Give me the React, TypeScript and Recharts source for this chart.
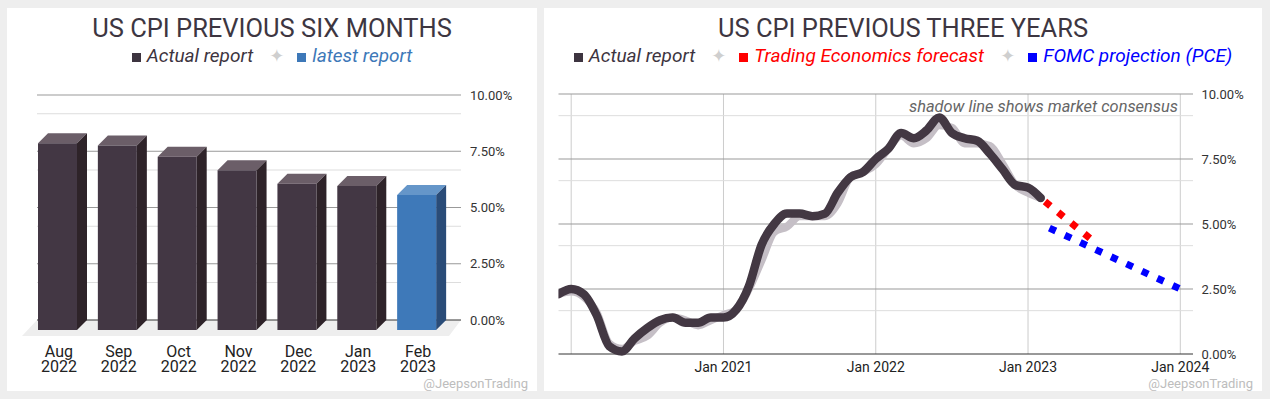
import React from 'react';
import { BarChart, Bar, XAxis, YAxis, CartesianGrid, LineChart, Line } from 'recharts';

// six month panel
const sixMonthLabels = ['Aug 2022', 'Sep 2022', 'Oct 2022', 'Nov 2022', 'Dec 2022', 'Jan 2023', 'Feb 2023'];
const sixMonthCpi = [8.3, 8.2, 7.7, 7.1, 6.5, 6.4, 6.0];

// three year panel (months counted from Jan 2020)
const actualStart = '2019-12';
const cpiActual = [
  2.3, 2.5, 2.3, 1.5, 0.3, 0.1, 0.6, 1.0, 1.3, 1.4, 1.2, 1.2, 1.4,
  1.4, 1.7, 2.6, 4.2, 5.0, 5.4, 5.4, 5.3, 5.4, 6.2, 6.8, 7.0,
  7.5, 7.9, 8.5, 8.3, 8.6, 9.1, 8.5, 8.3, 8.2, 7.7, 7.1, 6.5,
  6.4, 6.0,
];
const cpiConsensus = [
  2.3, 2.4, 2.2, 1.6, 0.4, 0.2, 0.5, 0.7, 1.2, 1.4, 1.3, 1.1, 1.3,
  1.5, 1.7, 2.5, 3.6, 4.7, 4.9, 5.3, 5.3, 5.3, 5.8, 6.8, 7.0,
  7.3, 7.9, 8.4, 8.1, 8.3, 8.8, 8.7, 8.1, 8.1, 8.0, 7.3, 6.5,
  6.2, 6.0,
];
const teForecastStart = '2023-02';
const teForecast = [6.0, 5.6, 5.2, 4.8, 4.4];
const fomcMonths = ['2023-02', '2024-01'];
const fomcProjection = [5.0, 2.5];

const yearTicks = ['2020-01', '2021-01', '2022-01', '2023-01', '2024-01'];
const timeDomain = ['2019-12', '2024-02'];
const pctTicks = [0, 2.5, 5, 7.5, 10];

const monthIndex = (s: string) => {
  const [y, m] = s.split('-').map(Number);
  return (y - 2020) * 12 + (m - 1);
};

const sixData = sixMonthLabels.map((label, i) => ({ label, v: sixMonthCpi[i] }));
const actualData = cpiActual.map((v, i) => ({ m: monthIndex(actualStart) + i, v }));
const consensusData = cpiConsensus.map((v, i) => ({ m: monthIndex(actualStart) + i, v }));
const teData = teForecast.map((v, i) => ({ m: monthIndex(teForecastStart) + i, v }));
const fomcData = fomcProjection.map((v, i) => ({ m: monthIndex(fomcMonths[i]), v }));
const yearTickValues = yearTicks.map(monthIndex);

// minor grid every third of a major step
const minorLines = pctTicks.slice(1).flatMap((t) => [t - 2.5 * (2 / 3), t - 2.5 / 3]);
const majorLines = pctTicks.slice(1);
const fmtPct = (v: number) => `${v.toFixed(2)}%`;

const DARK = '#433843';
const faces = {
  dark: { front: '#433744', side: '#2e2329', top: '#6b5e68' },
  blue: { front: '#3e79b9', side: '#2a4c78', top: '#6596c9' },
};
const DX = 10;
const DY = 10;

const Bar3D = (props: any) => {
  const { x, y, width, height, index } = props;
  const c = index === sixMonthCpi.length - 1 ? faces.blue : faces.dark;
  const fx = x - DX;
  const fy = y + DY;
  return (
    <g>
      <polygon points={`${fx},${fy} ${x},${y} ${x + width},${y} ${fx + width},${fy}`} fill={c.top} />
      <polygon
        points={`${fx + width},${fy} ${x + width},${y} ${x + width},${y + height} ${fx + width},${fy + height}`}
        fill={c.side}
      />
      <rect x={fx} y={fy} width={width} height={height} fill={c.front} />
    </g>
  );
};

const MonthTick = (props: any) => {
  const { x, y, payload } = props;
  const [mon, yr] = String(payload.value).split(' ');
  const cx = x - 9;
  return (
    <text textAnchor="middle" fill="#222" fontSize={16}>
      <tspan x={cx} y={y + 37}>{mon}</tspan>
      <tspan x={cx} y={y + 51.5}>{yr}</tspan>
    </text>
  );
};

const Legend = ({ items }: { items: { label: string; color: string }[] }) => (
  <div
    style={{
      position: 'absolute', top: 38, left: 0, width: '100%', display: 'flex',
      justifyContent: 'center', alignItems: 'baseline', fontStyle: 'italic',
      fontSize: 19, lineHeight: '19px', whiteSpace: 'nowrap',
    }}
  >
    {items.map((it, i) => (
      <React.Fragment key={it.label}>
        {i > 0 && (
          <span style={{ color: '#cfcfcf', fontStyle: 'normal', fontSize: 18, margin: '0 13px 0 16px', fontFamily: 'DejaVu Sans' }}>
            ✦
          </span>
        )}
        <span style={{ display: 'inline-block', width: 9, height: 9, background: it.color, marginRight: 6 }} />
        <span style={{ color: it.color }}>{it.label}</span>
      </React.Fragment>
    ))}
  </div>
);

const Title = ({ text }: { text: string }) => (
  <div
    style={{
      position: 'absolute', top: 8, left: 0, width: '100%', textAlign: 'center',
      fontSize: 25.5, lineHeight: '25.5px', color: '#3d3641',
    }}
  >
    {text}
  </div>
);

const Watermark = () => (
  <div style={{ position: 'absolute', right: 9, top: 369, fontSize: 13, lineHeight: '13px', color: '#bdbdbd' }}>
    @JeepsonTrading
  </div>
);

const L = { w: 530, h: 383, top: 87, left: 30, right: 454, base: 312 };
const R = { w: 718, h: 383, top: 86, left: 14.5, right: 649, base: 346 };

const panel: React.CSSProperties = { position: 'absolute', top: 8, height: 383, background: '#fff' };

export default function App() {
  return (
    <div
      style={{
        position: 'absolute', left: 0, top: 0, width: 1270, height: 399, background: '#eeeeee',
        overflow: 'hidden', fontFamily: 'Roboto, sans-serif',
      }}
    >
      <div style={{ ...panel, left: 7, width: L.w }}>
        <Title text="US CPI PREVIOUS SIX MONTHS" />
        <Legend
          items={[
            { label: 'Actual report', color: '#3d3440' },
            { label: 'latest report', color: '#3d78b8' },
          ]}
        />
        <svg width={L.w} height={L.h} style={{ position: 'absolute', left: 0, top: 0 }}>
          <polygon
            points={`${L.left},${L.base} ${L.right},${L.base} ${L.right - 12},${L.base + 16} ${L.left - 15},${L.base + 16}`}
            fill="#eeeeee"
          />
        </svg>
        <div style={{ position: 'absolute', left: 0, top: 0 }}>
          <BarChart
            width={L.w}
            height={L.h}
            data={sixData}
            margin={{ top: L.top, right: 0, bottom: 0, left: L.left }}
            barSize={39}
          >
            <CartesianGrid vertical={false} horizontalValues={minorLines} syncWithTicks stroke="#dddddd" />
            <CartesianGrid vertical={false} horizontalValues={majorLines} syncWithTicks stroke="#999999" />
            <CartesianGrid vertical={false} horizontalValues={[0]} syncWithTicks stroke="#333333" />
            <XAxis
              dataKey="label"
              height={L.h - L.base}
              padding={{ left: 1, right: 4 }}
              axisLine={false}
              tickLine={false}
              tickSize={0}
              tickMargin={0}
              interval={0}
              tick={<MonthTick />}
            />
            <YAxis
              orientation="right"
              width={L.w - L.right}
              domain={[0, 10]}
              ticks={pctTicks}
              tickFormatter={fmtPct}
              axisLine={false}
              tickLine={false}
              tickSize={0}
              tickMargin={9}
              tick={{ fill: '#333', fontSize: 13 }}
            />
            <Bar dataKey="v" shape={<Bar3D />} isAnimationActive={false} />
          </BarChart>
        </div>
        <Watermark />
      </div>

      <div style={{ ...panel, left: 544, width: R.w }}>
        <Title text="US CPI PREVIOUS THREE YEARS" />
        <Legend
          items={[
            { label: 'Actual report', color: '#3d3440' },
            { label: 'Trading Economics forecast', color: '#ff0000' },
            { label: 'FOMC projection (PCE)', color: '#0000ff' },
          ]}
        />
        <div style={{ position: 'absolute', left: 0, top: 0 }}>
          <LineChart width={R.w} height={R.h} margin={{ top: R.top, right: 0, bottom: 0, left: R.left }}>
            <CartesianGrid horizontal={false} verticalValues={yearTickValues} syncWithTicks stroke="#cccccc" />
            <CartesianGrid vertical={false} horizontalValues={minorLines} syncWithTicks stroke="#dddddd" />
            <CartesianGrid vertical={false} horizontalValues={majorLines} syncWithTicks stroke="#999999" />
            <CartesianGrid vertical={false} horizontalValues={[0]} syncWithTicks stroke="#333333" />
            <XAxis
              type="number"
              dataKey="m"
              domain={timeDomain.map(monthIndex)}
              ticks={yearTickValues}
              tickFormatter={(m: number) => (m === 0 ? '' : `Jan ${2020 + m / 12}`)}
              height={R.h - R.base}
              axisLine={false}
              tickLine={false}
              tickSize={0}
              tickMargin={8}
              interval={0}
              allowDataOverflow
              tick={{ fill: '#222', fontSize: 14 }}
            />
            <YAxis
              orientation="right"
              width={R.w - R.right}
              domain={[0, 10]}
              ticks={pctTicks}
              tickFormatter={fmtPct}
              axisLine={false}
              tickLine={false}
              tickSize={0}
              tickMargin={8.5}
              tick={{ fill: '#333', fontSize: 13 }}
            />
            <Line
              data={consensusData}
              dataKey="v"
              type="monotone"
              stroke="#c5bfc6"
              strokeWidth={8}
              strokeLinecap="round"
              strokeLinejoin="round"
              dot={false}
              activeDot={false}
              isAnimationActive={false}
            />
            <Line
              data={actualData}
              dataKey="v"
              type="monotone"
              stroke={DARK}
              strokeWidth={8.5}
              strokeLinecap="round"
              strokeLinejoin="round"
              dot={false}
              activeDot={false}
              isAnimationActive={false}
            />
            <Line
              data={teData}
              dataKey="v"
              type="linear"
              stroke="#ff0000"
              strokeWidth={7}
              strokeDasharray="7 10"
              strokeDashoffset={11.5}
              dot={false}
              activeDot={false}
              isAnimationActive={false}
            />
            <Line
              data={fomcData}
              dataKey="v"
              type="linear"
              stroke="#0000ff"
              strokeWidth={7}
              strokeDasharray="7 10"
              strokeDashoffset={7.4}
              dot={false}
              activeDot={false}
              isAnimationActive={false}
            />
          </LineChart>
        </div>
        <div
          style={{
            position: 'absolute', right: R.w - 634, top: 91, fontSize: 16.4, lineHeight: '16.4px',
            fontStyle: 'italic', color: '#666',
          }}
        >
          shadow line shows market consensus
        </div>
        <Watermark />
      </div>
    </div>
  );
}
